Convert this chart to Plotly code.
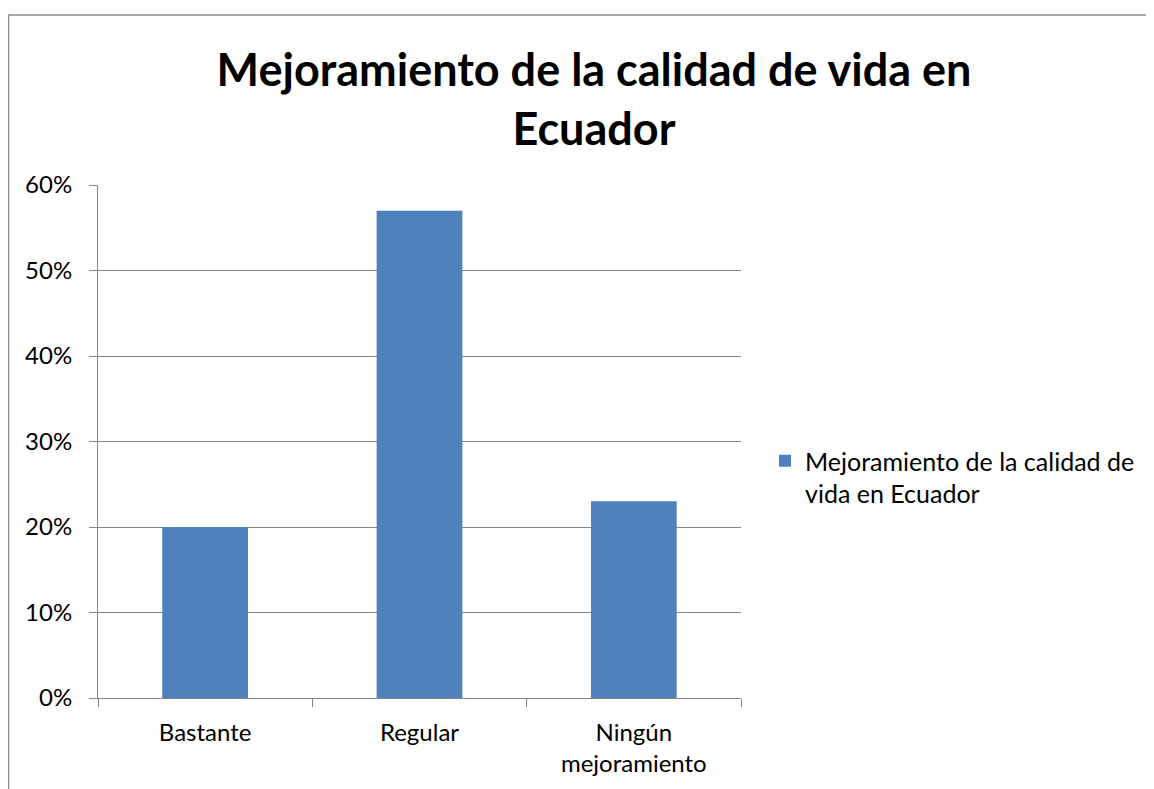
import plotly.graph_objects as go

categories = ["Bastante", "Regular", "Ningún<br>mejoramiento"]
values = [0.20, 0.57, 0.23]
series_name = "Mejoramiento de la calidad de<br>vida en Ecuador"
title_text = "Mejoramiento de la calidad de vida en<br>Ecuador"
tick_vals = [0, 0.1, 0.2, 0.3, 0.4, 0.5, 0.6]

# page has an 8px body margin; figure coordinates = page - 8
OFF = 8
W, H = 1154 - OFF, 789 - OFF
L, T = 98 - OFF, 185 - OFF
pw, ph = 643, 513
R, B = W - L - pw, H - T - ph

def px_x(p):
    return (p - OFF - L) / pw

def px_y(p):
    return (T + ph - (p - OFF)) / ph

FONT = "Lato, 'Open Sans', sans-serif"
GRID = "#878787"

fig = go.Figure()
fig.add_trace(go.Bar(
    x=categories, y=values, name=series_name,
    marker=dict(color="#4F81BD", line=dict(width=0)),
    showlegend=True,
))

fig.update_layout(
    width=W, height=H,
    margin=dict(l=L, r=R, t=T, b=B),
    paper_bgcolor="white", plot_bgcolor="white",
    bargap=0.6,
    title=dict(text="<b>" + title_text + "</b>", x=((218 + 970) / 2 - OFF) / W, xanchor="center",
               y=1 - (86 - OFF) / H, yanchor="middle",
               font=dict(family=FONT, size=45, color="black")),
    font=dict(family=FONT, size=24, color="black"),
    xaxis=dict(
        showline=True, linecolor=GRID, linewidth=1,
        ticks="outside", tickson="boundaries", ticklen=8, tickcolor=GRID,
        tickfont=dict(size=24), showgrid=False, ticklabelstandoff=13,
    ),
    yaxis=dict(
        range=[0, 0.6], tickvals=tick_vals, tickformat=".0%",
        showgrid=True, gridcolor=GRID, gridwidth=1,
        showline=True, linecolor=GRID, linewidth=1,
        ticks="outside", ticklen=8, tickcolor=GRID,
        tickfont=dict(size=24), zeroline=False, ticklabelstandoff=12,
    ),
    legend=dict(x=px_x(765), y=px_y(477), xanchor="left", yanchor="middle",
                font=dict(size=25), bgcolor="rgba(0,0,0,0)",
                itemwidth=30, valign="top"),
    shapes=[
        dict(type="line", xref="paper", yref="paper",
             x0=px_x(8.5), x1=px_x(8.5), y0=px_y(15), y1=px_y(800),
             line=dict(color="#8c8c8c", width=1.5)),
        dict(type="line", xref="paper", yref="paper",
             x0=px_x(8), x1=px_x(1170), y0=px_y(15), y1=px_y(15),
             line=dict(color="#8c8c8c", width=1.5)),
    ],
)

fig.write_html("out.html")
